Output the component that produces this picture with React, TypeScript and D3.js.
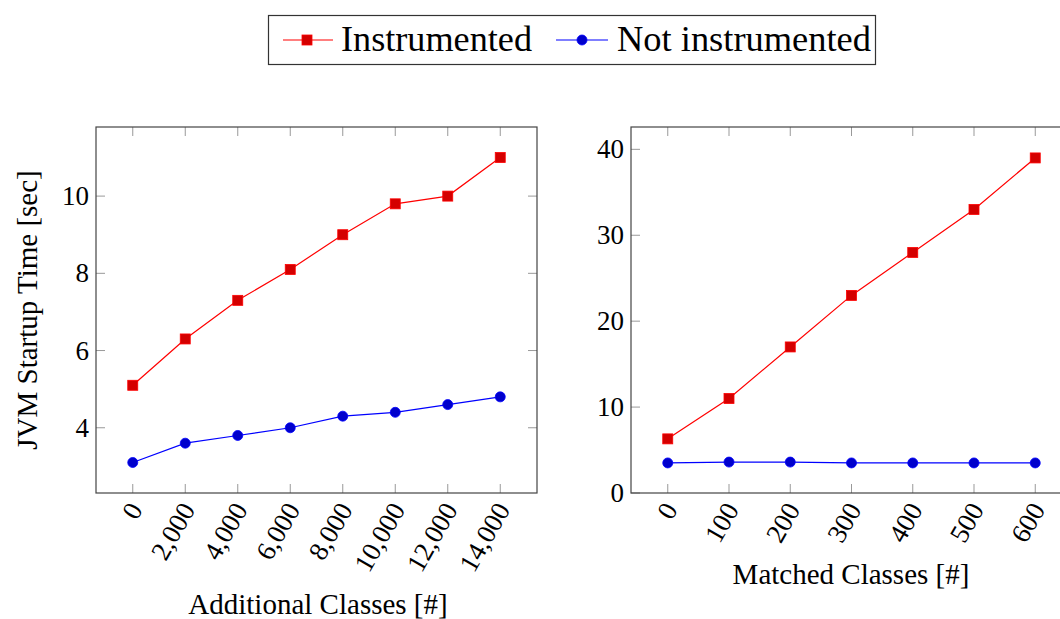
import React from "react";
import * as d3 from "d3";

const leftX = [0, 2000, 4000, 6000, 8000, 10000, 12000, 14000];
const leftInstr = [5.1, 6.3, 7.3, 8.1, 9.0, 9.8, 10.0, 11.0];
const leftNot = [3.1, 3.6, 3.8, 4.0, 4.3, 4.4, 4.6, 4.8];
const leftYTicks = [4, 6, 8, 10];

const rightX = [0, 100, 200, 300, 400, 500, 600];
const rightInstr = [6.3, 11, 17, 23, 28, 33, 39];
const rightNot = [3.5, 3.6, 3.6, 3.5, 3.5, 3.5, 3.5];
const rightYTicks = [0, 10, 20, 30, 40];

const seriesNames = ["Instrumented", "Not instrumented"];

const FONT = "'Liberation Serif', 'DejaVu Serif', serif";
const RED = "#ff0000";
const RED_FILL = "#d40000";
const BLUE = "#0000ff";
const BLUE_FILL = "#0000cc";
const TICK_FS = 27;
const LABEL_FS = 29;

type PanelProps = {
  x0: number; x1: number; y0: number; y1: number;
  xs: number[]; instr: number[]; not: number[]; yTicks: number[];
  xDomain: [number, number]; yDomain: [number, number];
  xLabel: string; xLabelX: number; xLabelY: number; yLabel?: string; fmt: (v: number) => string;
};

function Panel(p: PanelProps) {
  const x = d3.scaleLinear().domain(p.xDomain).range([p.x0, p.x1]);
  const y = d3.scaleLinear().domain(p.yDomain).range([p.y1, p.y0]);
  const line = d3.line<[number, number]>().x(d => x(d[0])).y(d => y(d[1]));
  const instrPts: [number, number][] = p.xs.map((v, i) => [v, p.instr[i]]);
  const notPts: [number, number][] = p.xs.map((v, i) => [v, p.not[i]]);
  const tl = 9;
  return (
    <g>
      {p.xs.map((v) => (
        <g key={"xt" + v}>
          <line x1={x(v)} x2={x(v)} y1={p.y1} y2={p.y1 - tl} stroke="#999" strokeWidth={1} />
          <line x1={x(v)} x2={x(v)} y1={p.y0} y2={p.y0 + tl} stroke="#999" strokeWidth={1} />
          <text
            transform={`translate(${x(v) + 3},${p.y1 + 12}) rotate(-60)`}
            textAnchor="end" dominantBaseline="central"
            fontFamily={FONT} fontSize={TICK_FS} fill="#000"
          >{p.fmt(v)}</text>
        </g>
      ))}
      {p.yTicks.map((v) => (
        <g key={"yt" + v}>
          <line x1={p.x0} x2={p.x0 + tl} y1={y(v)} y2={y(v)} stroke="#999" strokeWidth={1} />
          <line x1={p.x1} x2={p.x1 - tl} y1={y(v)} y2={y(v)} stroke="#999" strokeWidth={1} />
          <text x={p.x0 - 7} y={y(v)} textAnchor="end" dominantBaseline="central"
            fontFamily={FONT} fontSize={TICK_FS} fill="#000">{v}</text>
        </g>
      ))}
      <rect x={p.x0} y={p.y0} width={p.x1 - p.x0} height={p.y1 - p.y0} fill="none" stroke="#444" strokeWidth={1.2} />
      <path d={line(instrPts) || ""} fill="none" stroke={RED} strokeWidth={1.2} />
      <path d={line(notPts) || ""} fill="none" stroke={BLUE} strokeWidth={1.2} />
      {instrPts.map((d, i) => (
        <rect key={"s" + i} x={x(d[0]) - 5} y={y(d[1]) - 5} width={10} height={10}
          fill={RED_FILL} stroke={RED} strokeWidth={0.8} />
      ))}
      {notPts.map((d, i) => (
        <circle key={"c" + i} cx={x(d[0])} cy={y(d[1])} r={5}
          fill={BLUE_FILL} stroke={BLUE} strokeWidth={0.8} />
      ))}
      <text x={p.xLabelX} y={p.xLabelY}
        textAnchor="middle" fontFamily={FONT} fontSize={LABEL_FS} fill="#000">{p.xLabel}</text>
      {p.yLabel && (
        <text transform={`translate(37,${(p.y0 + p.y1) / 2}) rotate(-90)`} textAnchor="middle"
          fontFamily={FONT} fontSize={LABEL_FS} fill="#000">{p.yLabel}</text>
      )}
    </g>
  );
}

export default function App() {
  return (
    <svg width={1060} height={619} style={{ display: "block", position: "absolute", left: 0, top: 0 }}>
      <rect width={1060} height={619} fill="#fff" />
      <g>
        <rect x={268.5} y={15.5} width={607} height={49} fill="#fff" stroke="#333" strokeWidth={1.2} />
        <line x1={283} x2={333} y1={40} y2={40} stroke={RED} strokeWidth={1.2} />
        <rect x={302} y={35} width={10} height={10} fill={RED_FILL} stroke={RED} strokeWidth={0.8} />
        <text x={341} y={51} fontFamily={FONT} fontSize={35.5} fill="#000" textLength={191} lengthAdjust="spacingAndGlyphs">{seriesNames[0]}</text>
        <line x1={556} x2={608} y1={40} y2={40} stroke={BLUE} strokeWidth={1.2} />
        <circle cx={582} cy={40} r={5} fill={BLUE_FILL} stroke={BLUE} strokeWidth={0.8} />
        <text x={617} y={51} fontFamily={FONT} fontSize={35.5} fill="#000" textLength={254} lengthAdjust="spacingAndGlyphs">{seriesNames[1]}</text>
      </g>
      <Panel x0={96} x1={537} y0={127} y1={493}
        xs={leftX} instr={leftInstr} not={leftNot} yTicks={leftYTicks}
        xDomain={[-1400, 15400]} yDomain={[2.31, 11.79]}
        xLabel="Additional Classes [#]" xLabelX={318} xLabelY={614} yLabel="JVM Startup Time [sec]"
        fmt={d3.format(",")} />
      <Panel x0={631} x1={1072} y0={127} y1={493}
        xs={rightX} instr={rightInstr} not={rightNot} yTicks={rightYTicks}
        xDomain={[-60, 660]} yDomain={[0, 42.6]}
        xLabel="Matched Classes [#]" xLabelX={851} xLabelY={584}
        fmt={d3.format(",")} />
    </svg>
  );
}
